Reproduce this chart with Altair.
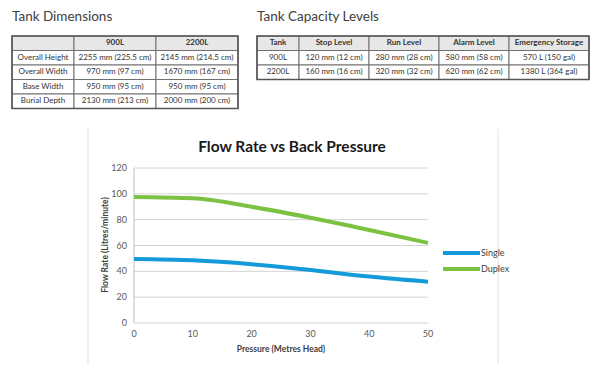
import altair as alt
import pandas as pd

# ---------------- data ----------------
dim_title = "Tank Dimensions"
dim_header = ["", "900L", "2200L"]
dim_rows = ["Overall Height", "Overall Width", "Base Width", "Burial Depth"]
dim_900 = ["2255 mm (225.5 cm)", "970 mm (97 cm)", "950 mm (95 cm)", "2130 mm (213 cm)"]
dim_2200 = ["2145 mm (214.5 cm)", "1670 mm (167 cm)", "950 mm (95 cm)", "2000 mm (200 cm)"]

cap_title = "Tank Capacity Levels"
cap_header = ["Tank", "Stop Level", "Run Level", "Alarm Level", "Emergency Storage"]
cap_tank = ["900L", "2200L"]
cap_stop = ["120 mm (12 cm)", "160 mm (16 cm)"]
cap_run = ["280 mm (28 cm)", "320 mm (32 cm)"]
cap_alarm = ["580 mm (58 cm)", "620 mm (62 cm)"]
cap_emerg = ["570 L (150 gal)", "1380 L (364 gal)"]

chart_title = "Flow Rate vs Back Pressure"
x_title = "Pressure (Metres Head)"
y_title = "Flow Rate (Litres/minute)"
series_names = ["Single", "Duplex"]
pressure = [0, 10, 20, 30, 40, 50]
single = [49.5, 48.5, 45.5, 41, 36, 32]
duplex = [97.5, 96.5, 90, 81.5, 72, 62]
y_ticks = [0, 20, 40, 60, 80, 100, 120]
x_ticks = [0, 10, 20, 30, 40, 50]

# ---------------- layout / style ----------------
FONT = "Lato"
TXT = "#333333"
series_colors = ["#129bd8", "#7cc242"]


def table_cells(columns, x0, y0, col_w, row_h):
    recs = []
    x = x0
    for ci, col in enumerate(columns):
        for ri, val in enumerate(col):
            recs.append(dict(x=x, x2=x + col_w[ci], y=y0 + ri * row_h,
                             y2=y0 + (ri + 1) * row_h,
                             cx=x + col_w[ci] / 2, cy=y0 + (ri + 0.5) * row_h,
                             text=val, header=(ri == 0)))
        x += col_w[ci]
    return pd.DataFrame(recs)


t1 = table_cells(
    [[dim_header[0]] + dim_rows, [dim_header[1]] + dim_900, [dim_header[2]] + dim_2200],
    12, 36, [62, 82, 82], 14.5)
t2 = table_cells(
    [[cap_header[0]] + cap_tank, [cap_header[1]] + cap_stop, [cap_header[2]] + cap_run,
     [cap_header[3]] + cap_alarm, [cap_header[4]] + cap_emerg],
    257, 36, [42, 70, 70, 70, 80], 14.5)
cells = pd.concat([t1, t2], ignore_index=True)
frames = pd.DataFrame([
    dict(x=t1.x.min(), x2=t1.x2.max(), y=t1.y.min(), y2=t1.y2.max()),
    dict(x=t2.x.min(), x2=t2.x2.max(), y=t2.y.min(), y2=t2.y2.max()),
])

X = lambda f: alt.X(f, scale=None, axis=None)
Y = lambda f: alt.Y(f, scale=None, axis=None)

cell_rect = alt.Chart(cells).mark_rect(stroke="#707070", strokeWidth=1).encode(
    x=X("x:Q"), x2="x2:Q", y=Y("y:Q"), y2="y2:Q",
    fill=alt.Fill("header:N", scale=alt.Scale(domain=[True, False], range=["#e7e7e7", "#ffffff"]), legend=None),
)
frame_rect = alt.Chart(frames).mark_rect(fill=None, stroke="#555555", strokeWidth=1.6).encode(
    x=X("x:Q"), x2="x2:Q", y=Y("y:Q"), y2="y2:Q")
cell_head = alt.Chart(cells).transform_filter("datum.header").mark_text(
    font=FONT, fontSize=8, fontWeight="bold", color=TXT, baseline="middle").encode(
    x=X("cx:Q"), y=Y("cy:Q"), text="text:N")
cell_body = alt.Chart(cells).transform_filter("!datum.header").mark_text(
    font=FONT, fontSize=8, color=TXT, baseline="middle").encode(
    x=X("cx:Q"), y=Y("cy:Q"), text="text:N")

tbl_titles = pd.DataFrame(dict(text=[dim_title, cap_title], tx=[12, 257]))
titles = alt.Chart(tbl_titles).mark_text(
    font=FONT, fontSize=13.5, color="#404040", align="left", baseline="middle").encode(
    x=X("tx:Q"), y=alt.value(17), text="text:N")

# ---------------- line chart ----------------
xs = alt.Scale(domain=[0, 50], range=[134, 428], nice=False, zero=False)
ys = alt.Scale(domain=[0, 120], range=[323, 168], nice=False)

frame_lines = alt.Chart(pd.DataFrame(dict(fx=[88, 498]))).mark_rule(color="#e3e3e3").encode(
    x=X("fx:Q"), y=alt.value(129), y2=alt.value(364))

grid = alt.Chart(pd.DataFrame(dict(v=y_ticks))).mark_rule(color="#d4d4d4", strokeWidth=1).encode(
    y=alt.Y("v:Q", scale=ys, axis=None), x=alt.value(134), x2=alt.value(428))
yaxis_line = alt.Chart(pd.DataFrame(dict(v=[0]))).mark_rule(color="#bfbfbf").encode(
    x=alt.X("v:Q", scale=xs, axis=None), y=alt.value(168), y2=alt.value(323))
ylabels = alt.Chart(pd.DataFrame(dict(v=y_ticks))).mark_text(
    font=FONT, fontSize=9, color="#595959", align="right", baseline="middle").encode(
    y=alt.Y("v:Q", scale=ys, axis=None), x=alt.value(127), text="v:Q")
xlabels = alt.Chart(pd.DataFrame(dict(v=x_ticks))).mark_text(
    font=FONT, fontSize=9, color="#595959", align="center", baseline="middle").encode(
    x=alt.X("v:Q", scale=xs, axis=None), y=alt.value(334), text="v:Q")

long = pd.DataFrame(dict(
    pressure=pressure * 2,
    flow=single + duplex,
    series=[series_names[0]] * len(pressure) + [series_names[1]] * len(pressure),
))
cscale = alt.Scale(domain=series_names, range=series_colors)
lines = alt.Chart(long).mark_line(interpolate="monotone", strokeWidth=4, strokeCap="butt").encode(
    x=alt.X("pressure:Q", scale=xs, axis=None),
    y=alt.Y("flow:Q", scale=ys, axis=None),
    color=alt.Color("series:N", scale=cscale, legend=None),
)

leg = pd.DataFrame(dict(series=series_names, li=[0, 1]))
ls = alt.Scale(domain=[0, 1], range=[253, 269])
leg_lines = alt.Chart(leg).mark_rule(strokeWidth=4).encode(
    y=alt.Y("li:Q", scale=ls, axis=None), x=alt.value(443), x2=alt.value(480),
    color=alt.Color("series:N", scale=cscale, legend=None))
leg_text = alt.Chart(leg).mark_text(
    font=FONT, fontSize=9, color="#404040", align="left", baseline="middle").encode(
    y=alt.Y("li:Q", scale=ls, axis=None), x=alt.value(481), text="series:N")

ttl = pd.DataFrame(dict(text=[chart_title]))
ctitle = alt.Chart(ttl).mark_text(
    font=FONT, fontSize=15.5, fontWeight="bold", color="#1a1a1a", align="center", baseline="middle").encode(
    x=alt.value(292), y=alt.value(147), text="text:N")
axt = pd.DataFrame(dict(text=[x_title, y_title]))
xtitle = alt.Chart(axt.iloc[[0]]).mark_text(
    font=FONT, fontSize=8.5, fontWeight="bold", color="#404040", align="center", baseline="middle").encode(
    x=alt.value(281), y=alt.value(349), text="text:N")
ytitle = alt.Chart(axt.iloc[[1]]).mark_text(
    font=FONT, fontSize=8.5, fontWeight="bold", color="#404040", align="center", baseline="middle",
    angle=270).encode(
    x=alt.value(105), y=alt.value(245), text="text:N")

chart = alt.layer(
    cell_rect, frame_rect, cell_head, cell_body, titles,
    frame_lines, grid, yaxis_line, ylabels, xlabels, lines,
    leg_lines, leg_text, ctitle, xtitle, ytitle,
).resolve_scale(
    x="independent", y="independent", color="independent", fill="independent"
).properties(
    width=600, height=375, padding=0, autosize=alt.AutoSizeParams(type="none"),
    background="white",
).configure_view(stroke=None)

chart.save("out.html", embed_options={"renderer": "svg", "actions": False})
